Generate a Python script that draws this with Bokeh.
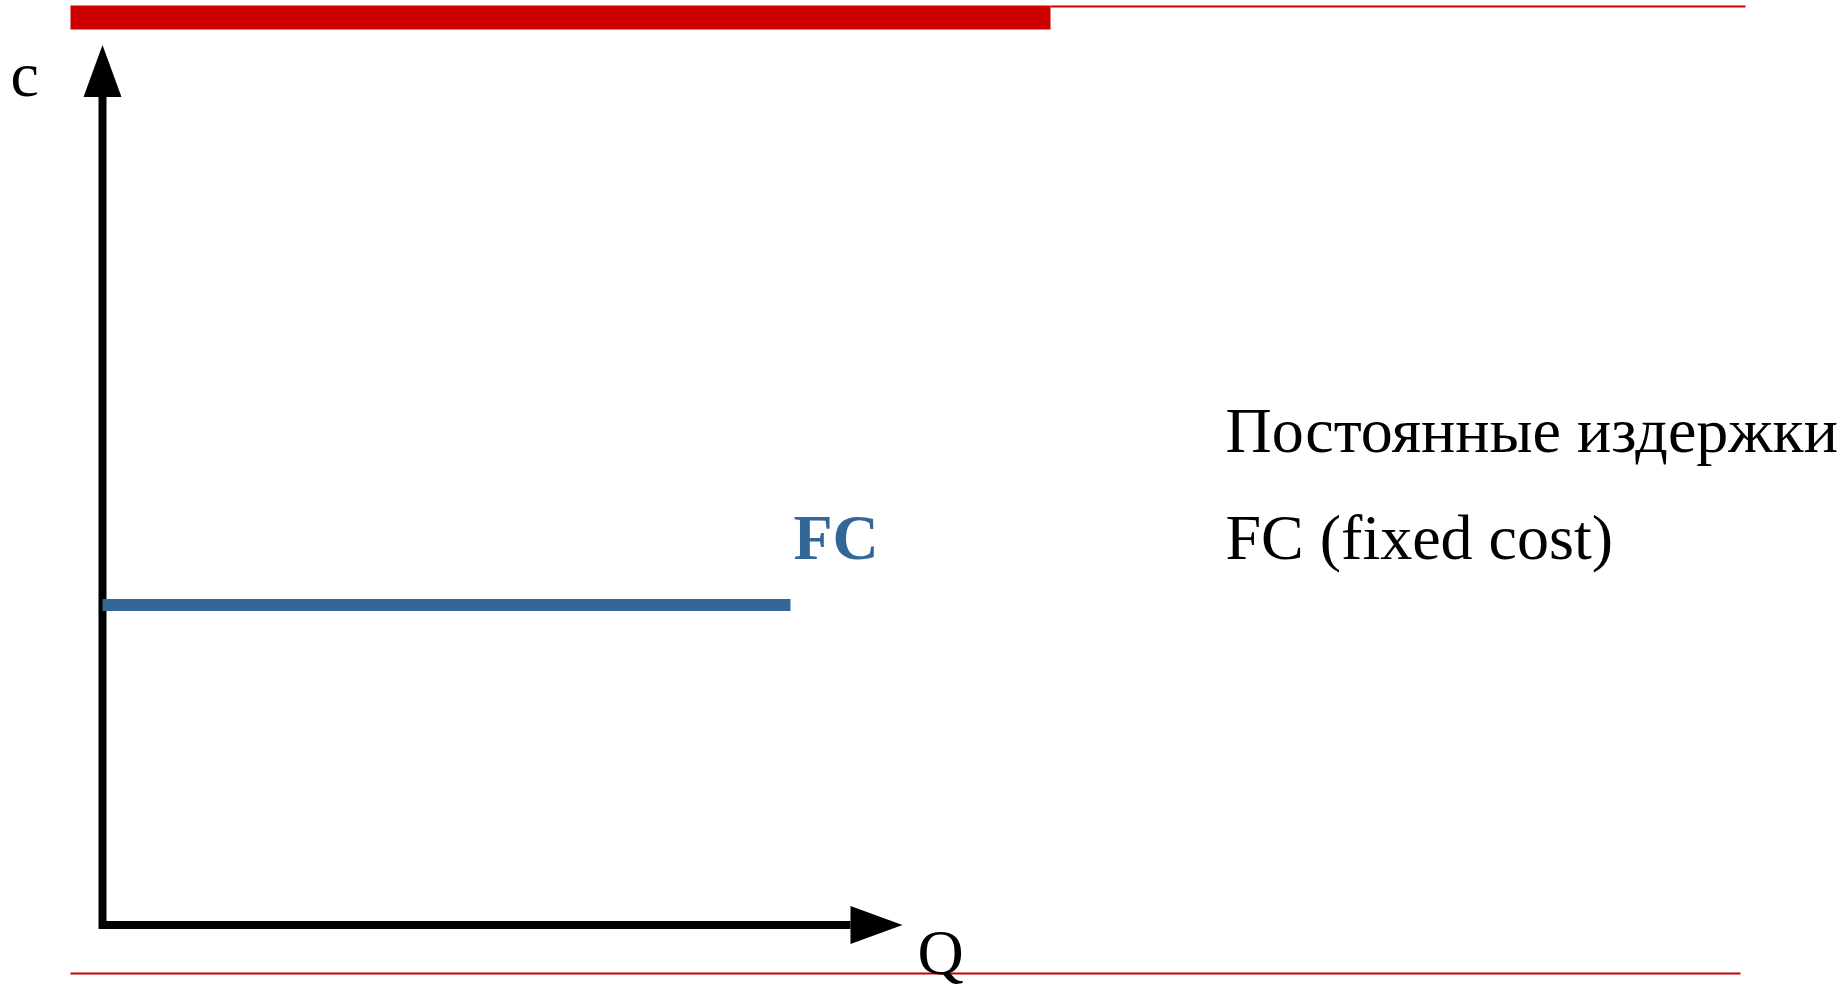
from bokeh.plotting import figure
from bokeh.models import Range1d
from bokeh.embed import file_html
from bokeh.resources import INLINE
from bokeh.core.properties import value

# ---- data (schematic cost diagram) ----
q_axis = [0, 10]          # quantity axis extent (Q)
c_axis = [0, 11]          # cost axis extent (c)
fc_q = [0, 8.6]           # output range over which FC is drawn
fc_c = [4, 4]             # fixed cost level (constant)
axis_labels = ["c", "Q"]
fc_label = ["FC"]
note_lines = ["Постоянные издержки", "FC (fixed cost)"]

# ---- layout helpers (pixel -> data) ----
W, H = 1847, 990
X0, Y0, K = 102.0, 924.5, 80.0
TDY = 25                   # baseline correction for text placement


def xd(px):
    return (px - X0) / K


def yd(py):
    return (Y0 - py) / K


HL = 52.0 / K   # arrow head length
HW = 19.0 / K   # arrow head half width

RED = "#CC0000"
BLUE = "#336699"
FONT = value("Liberation Serif")

p = figure(width=W, height=H,
           x_range=Range1d(xd(0), xd(W)), y_range=Range1d(yd(H), yd(0)),
           output_backend="svg", toolbar_location=None,
           x_axis_location=None, y_axis_location=None,
           min_border=0, outline_line_color=None,
           background_fill_color="white", border_fill_color="white")
p.grid.grid_line_color = None

# decorative slide rules
p.quad(left=[xd(70), xd(1050), xd(70)], right=[xd(1050), xd(1745), xd(1740)],
       top=[yd(5), yd(5), yd(972)], bottom=[yd(29), yd(7), yd(974)],
       fill_color=RED, line_color=None)

# axes with arrow heads
q0, q_max = q_axis
c0, c_max = c_axis
p.line(x=[q0, q0, q_max - HL],
       y=[c_max - HL, c0, c0],
       line_width=8, line_color="black", line_join="miter")
p.patches(xs=[[q_max, q_max - HL, q_max - HL], [q0 - HW, q0, q0 + HW]],
          ys=[[c0, c0 + HW, c0 - HW], [c_max - HL, c_max, c_max - HL]],
          fill_color="black", line_color=None)

# fixed cost line
p.line(x=fc_q, y=fc_c, line_width=12, line_color=BLUE, line_cap="butt")

# axis labels
p.text(x=[xd(10), xd(917)], y=[yd(99 - TDY), yd(977 - TDY)], text=axis_labels,
       text_font=FONT, text_font_size="64px", text_color="black",
       text_align="left", text_baseline="alphabetic")

# FC label
p.text(x=[xd(793)], y=[yd(562 - TDY)], text=fc_label,
       text_font=FONT, text_font_size="64px", text_font_style="bold",
       text_color=BLUE, text_align="left", text_baseline="alphabetic")

# explanatory note
p.text(x=[xd(1225), xd(1225)], y=[yd(455 - TDY), yd(562 - TDY)], text=note_lines,
       text_font=FONT, text_font_size="64px", text_color="black",
       text_align="left", text_baseline="alphabetic")

open("out.html", "w").write(file_html(p, INLINE))
